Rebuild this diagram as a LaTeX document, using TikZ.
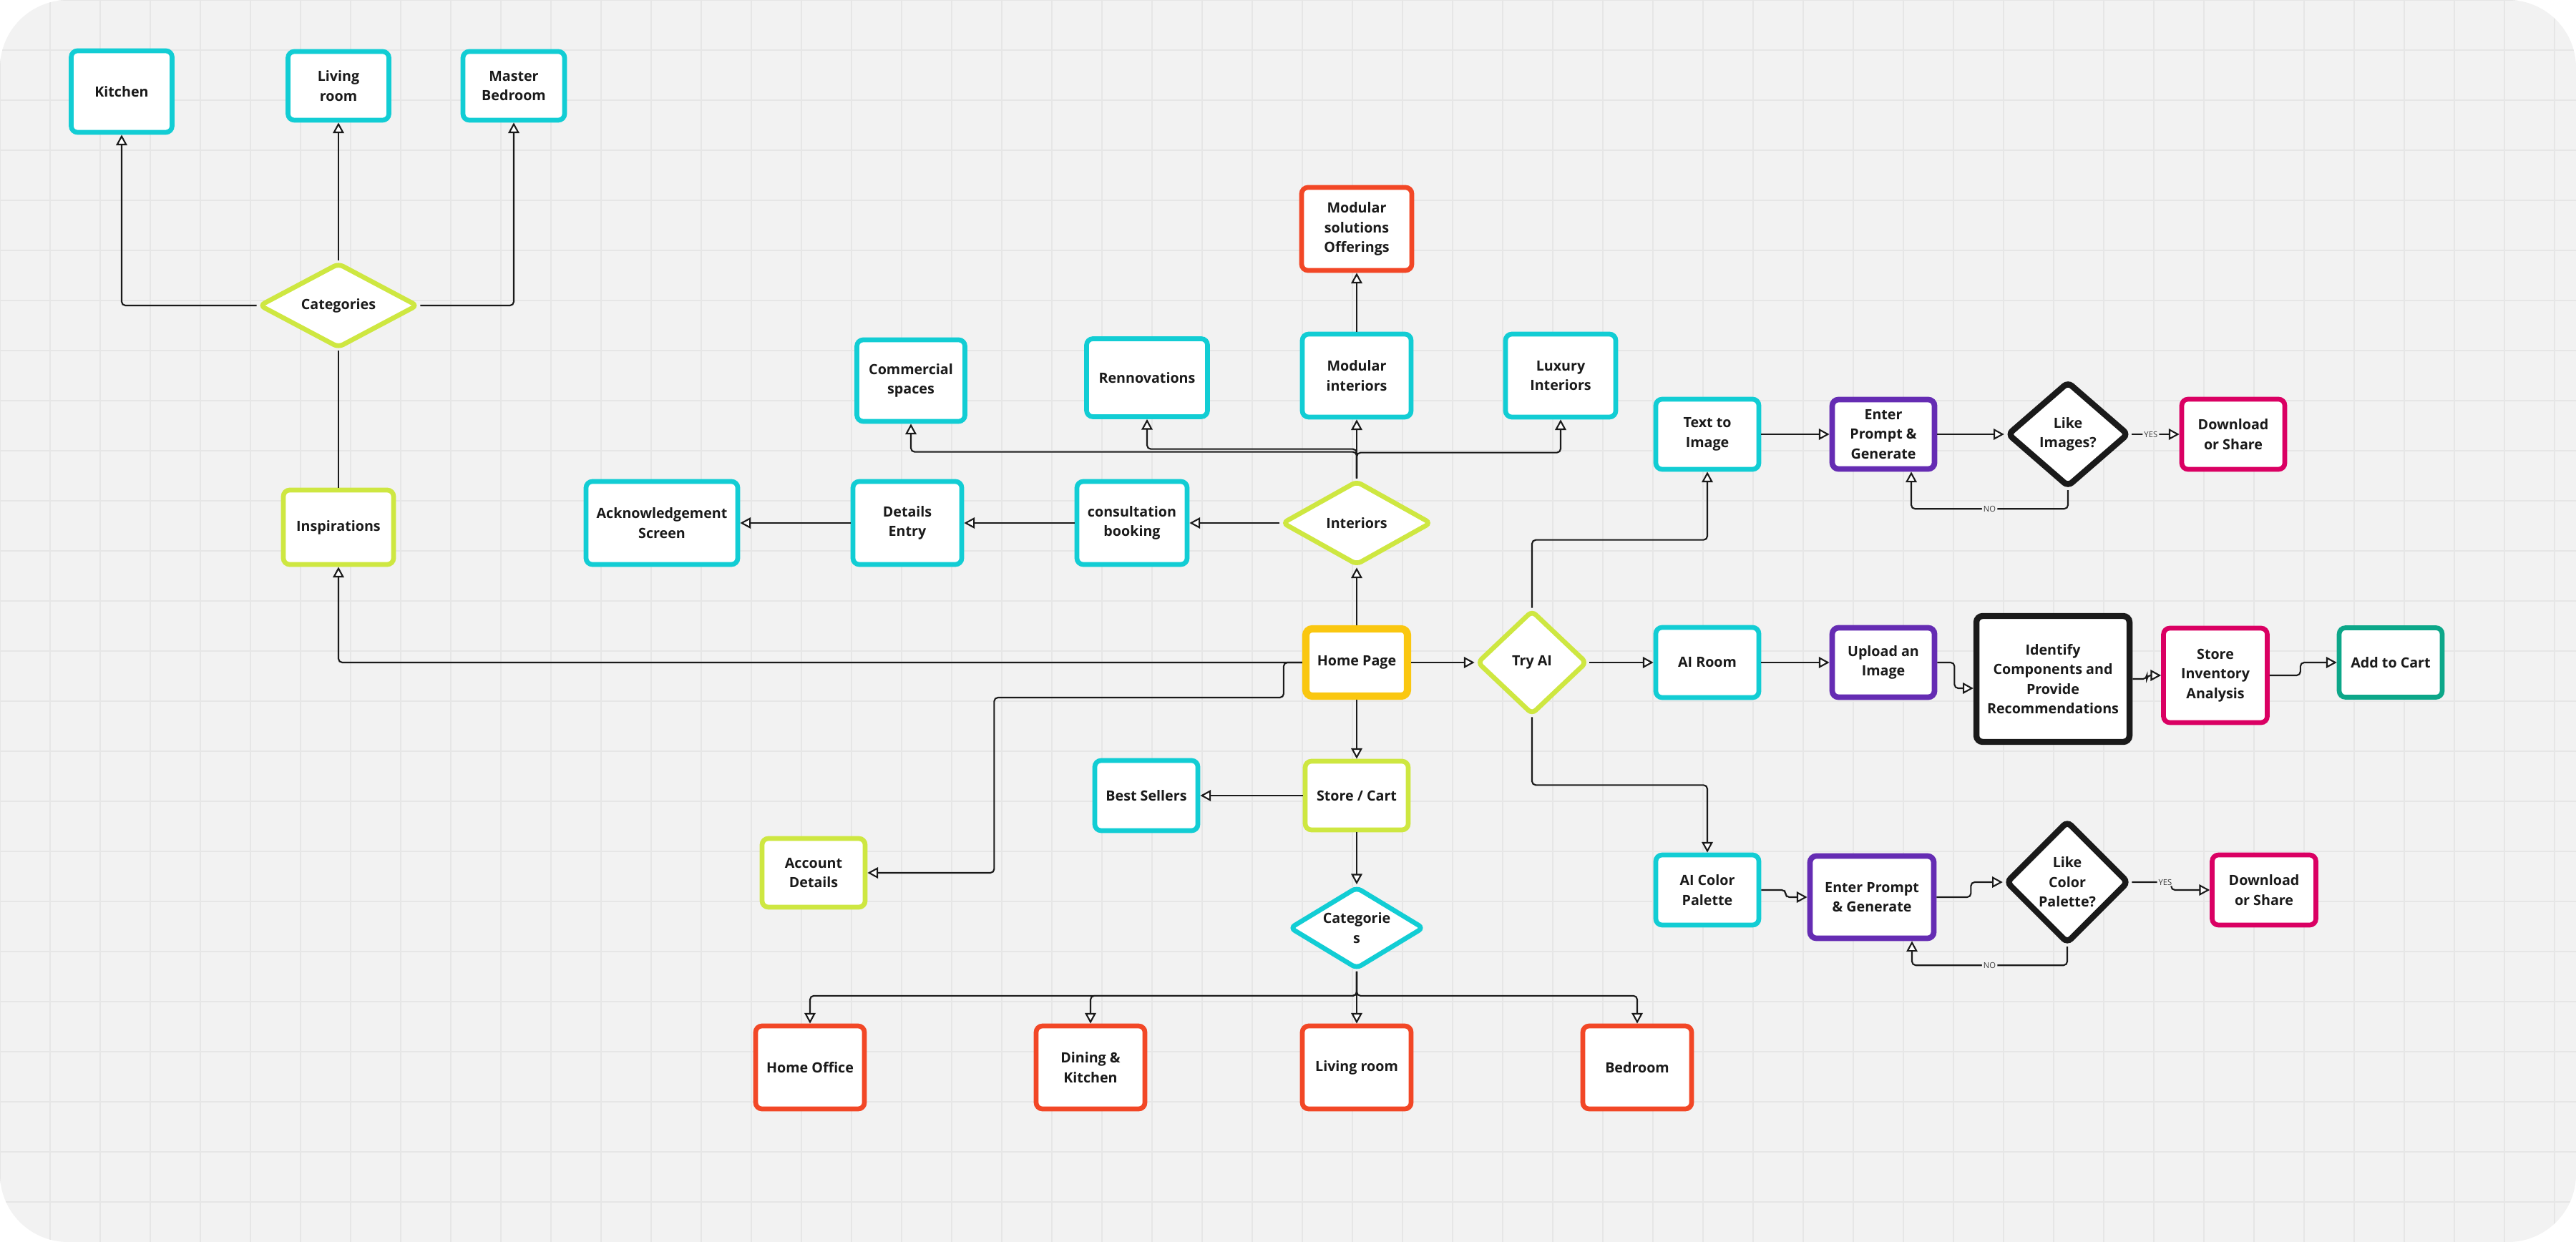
\documentclass[tikz,border=0pt]{standalone}
\usepackage{fontspec}
\setmainfont{Open Sans}
\usepackage{xcolor}
\usepackage{tikz}
\usetikzlibrary{shapes.geometric, arrows.meta, calc}
\definecolor{flowbg}{HTML}{F2F2F2}
\definecolor{flowgrid}{HTML}{E6E6E6}
\definecolor{flowcyan}{HTML}{12CDD4}
\definecolor{flowlime}{HTML}{CEE741}
\definecolor{flowred}{HTML}{F24726}
\definecolor{flowpurple}{HTML}{652CB3}
\definecolor{flowpink}{HTML}{DA0063}
\definecolor{flowgreen}{HTML}{0CA789}
\definecolor{flowamber}{HTML}{FAC710}
\definecolor{flowink}{HTML}{1A1A1A}

\tikzset{
  card/.style={draw, fill=white, line width=1.9pt, align=center, text=flowink,
    font=\fontsize{5.6}{7.8}\selectfont\bfseries, inner sep=1pt},
  box/.style 2 args={card, rounded corners=2.5pt, minimum width=#1cm, minimum height=#2cm},
  decision/.style 2 args={card, diamond, inner sep=0pt, rounded corners=2pt,
    aspect=1.6, minimum width=#1cm, minimum height=#2cm},
  conn/.style={draw=flowink, line width=0.6pt, rounded corners=1.5pt},
  arr/.style={conn, -{Triangle[length=4.2pt, width=4.4pt, fill=white]}},
  yesno/.style={fill=flowbg, inner sep=0.6pt, text=flowink!85,
    font=\fontsize{3.2}{3.6}\selectfont}
}

\begin{document}
\begin{tikzpicture}
    % Board with grid
    \fill[white] (0,0) rectangle (36,-17.36);
    \fill[flowbg, rounded corners=0.95cm] (0,0) rectangle (36,-17.36);
    \begin{scope}
      \clip[rounded corners=0.95cm] (0,0) rectangle (36,-17.36);
      \draw[flowgrid, line width=0.6pt, xstep=0.7, ystep=0.7] (0,0) grid (36,-17.36);
    \end{scope}

    % Inspirations corner
    \node[box={1.41}{1.14}, draw=flowcyan] (kitchen) at (1.70,-1.28) {Kitchen};
    \node[box={1.41}{0.96}, draw=flowcyan] (livtop) at (4.73,-1.20) {Living\\room};
    \node[box={1.42}{0.96}, draw=flowcyan] (master) at (7.18,-1.20) {Master\\Bedroom};
    \node[decision={2.22}{1.19}, draw=flowlime] (catsA) at (4.73,-4.27) {Categories};
    \node[box={1.54}{1.04}, draw=flowlime] (inspire) at (4.73,-7.37) {Inspirations};

    % Interiors
    \node[box={1.54}{1.16}, draw=flowred] (offer) at (18.96,-3.20) {Modular\\solutions\\Offerings};
    \node[box={1.51}{1.14}, draw=flowcyan] (commercial) at (12.73,-5.32) {Commercial\\spaces};
    \node[box={1.69}{1.09}, draw=flowcyan] (renov) at (16.03,-5.28) {Rennovations};
    \node[box={1.52}{1.16}, draw=flowcyan] (modular) at (18.96,-5.25) {Modular\\interiors};
    \node[box={1.54}{1.16}, draw=flowcyan] (luxury) at (21.81,-5.25) {Luxury\\Interiors};
    \node[decision={2.09}{1.18}, draw=flowlime] (interiors) at (18.96,-7.31) {Interiors};
    \node[box={1.54}{1.16}, draw=flowcyan] (consult) at (15.82,-7.31) {consultation\\booking};
    \node[box={1.52}{1.16}, draw=flowcyan] (details) at (12.68,-7.31) {Details\\Entry};
    \node[box={2.12}{1.16}, draw=flowcyan] (ack) at (9.25,-7.31) {Acknowledgement\\Screen};

    % Home and store
    \node[box={1.42}{0.94}, draw=flowamber, line width=2.9pt] (home) at (18.96,-9.26) {Home Page};
    \node[decision={1.54}{1.46}, draw=flowlime, aspect=1] (tryai) at (21.41,-9.26) {Try AI};
    \node[box={1.44}{0.96}, draw=flowlime] (store) at (18.96,-11.12) {Store / Cart};
    \node[box={1.44}{0.98}, draw=flowcyan] (best) at (16.02,-11.12) {Best Sellers};
    \node[box={1.44}{0.96}, draw=flowlime] (account) at (11.37,-12.20) {Account\\Details};
    \node[decision={1.88}{1.15}, draw=flowcyan] (catsB) at (18.96,-12.97) {Categorie\\s};
    \node[box={1.52}{1.16}, draw=flowred] (office) at (11.32,-14.92) {Home Office};
    \node[box={1.52}{1.16}, draw=flowred] (dining) at (15.24,-14.92) {Dining \&\\Kitchen};
    \node[box={1.52}{1.16}, draw=flowred] (livbot) at (18.96,-14.92) {Living room};
    \node[box={1.52}{1.16}, draw=flowred] (bedroom) at (22.88,-14.92) {Bedroom};

    % Try AI flows
    \node[box={1.44}{0.98}, draw=flowcyan] (textimg) at (23.86,-6.07) {Text to\\Image};
    \node[box={1.43}{0.97}, draw=flowpurple, line width=2.2pt] (promptA) at (26.32,-6.07) {Enter\\Prompt \&\\Generate};
    \node[decision={1.70}{1.48}, draw=flowink, line width=2.4pt, aspect=1.1] (likeimg) at (28.90,-6.07) {Like\\Images?};
    \node[box={1.44}{0.98}, draw=flowpink] (downA) at (31.21,-6.07) {Download\\or Share};

    \node[box={1.44}{0.98}, draw=flowcyan] (airoom) at (23.86,-9.26) {AI Room};
    \node[box={1.43}{0.97}, draw=flowpurple, line width=2.2pt] (upload) at (26.32,-9.26) {Upload an\\Image};
    \node[box={2.14}{1.76}, draw=flowink, line width=2.4pt] (identify) at (28.69,-9.49) {Identify\\Components and\\Provide\\Recommendations};
    \node[box={1.45}{1.32}, draw=flowpink] (inventory) at (30.96,-9.44) {Store\\Inventory\\Analysis};
    \node[box={1.44}{0.97}, draw=flowgreen] (cart) at (33.41,-9.26) {Add to Cart};

    \node[box={1.44}{0.98}, draw=flowcyan] (aicolor) at (23.86,-12.44) {AI Color\\Palette};
    \node[box={1.73}{1.15}, draw=flowpurple, line width=2.2pt] (promptB) at (26.16,-12.54) {Enter Prompt\\\& Generate};
    \node[decision={1.72}{1.72}, draw=flowink, line width=2.4pt, aspect=1] (likecol) at (28.89,-12.33) {Like\\Color\\Palette?};
    \node[box={1.45}{0.98}, draw=flowpink] (downB) at (31.64,-12.44) {Download\\or Share};

    % Connectors, left side
    \draw[arr] (catsA.west) -| (kitchen.south);
    \draw[arr] (catsA.north) -- (livtop.south);
    \draw[arr] (catsA.east) -| (master.south);
    \draw[conn] (inspire.north) -- (catsA.south);
    \draw[arr] (home.west) -| (inspire.south);
    \draw[arr] (home.west) -- ++(-0.26,0) -- ++(0,-0.49) -| ($(account.east)+(1.77,0)$) -- (account.east);

    % Connectors, interiors
    \draw[arr] (home.north) -- (interiors.south);
    \draw[arr] (interiors.north) -- (modular.south);
    \draw[arr] (interiors.north) -- ++(0,0.37) -| (commercial.south);
    \draw[arr] (interiors.north) -- ++(0,0.41) -| (renov.south);
    \draw[arr] (interiors.north) -- ++(0,0.36) -| (luxury.south);
    \draw[arr] (modular.north) -- (offer.south);
    \draw[arr] (interiors.west) -- (consult.east);
    \draw[arr] (consult.west) -- (details.east);
    \draw[arr] (details.west) -- (ack.east);

    % Connectors, store
    \draw[arr] (home.south) -- (store.north);
    \draw[arr] (store.west) -- (best.east);
    \draw[arr] (store.south) -- (catsB.north);
    \foreach \room in {office, dining, livbot, bedroom}
      \draw[arr] (catsB.south) -- ++(0,-0.34) -| (\room.north);

    % Connectors, Try AI
    \draw[arr] (home.east) -- (tryai.west);
    \draw[arr] (tryai.north) -- ++(0,0.95) -| (textimg.south);
    \draw[arr] (tryai.east) -- (airoom.west);
    \draw[arr] (tryai.south) -- ++(0,-0.95) -| (aicolor.north);

    \draw[arr] (textimg.east) -- (promptA.west);
    \draw[arr] (promptA.east) -- (likeimg.west);
    \draw[arr] (likeimg.east) -- node[yesno, pos=0.4] {YES} (downA.west);
    \draw[arr] (likeimg.south) -- ++(0,-0.26) -| node[yesno, pos=0.25] {NO} ($(promptA.south)+(0.39,0)$);

    \draw[arr] (airoom.east) -- (upload.west);
    \draw[arr] (upload.east) -- ++(0.24,0) |- ($(identify.west)+(0,-0.13)$);
    \draw[arr] (identify.east) -- ++(0.2,0) |- (inventory.west);
    \draw[arr] (inventory.east) -- ++(0.43,0) |- (cart.west);

    \draw[arr] (aicolor.east) -- ++(0.34,0) |- (promptB.west);
    \draw[arr] (promptB.east) -- ++(0.48,0) |- (likecol.west);
    \draw[arr] (likecol.east) -- node[yesno, pos=0.85] {YES} ++(0.55,0) |- (downB.west);
    \draw[arr] (likecol.south) -- ++(0,-0.26) -| node[yesno, pos=0.25] {NO} ($(promptB.south)+(0.56,0)$);
\end{tikzpicture}
\end{document}
